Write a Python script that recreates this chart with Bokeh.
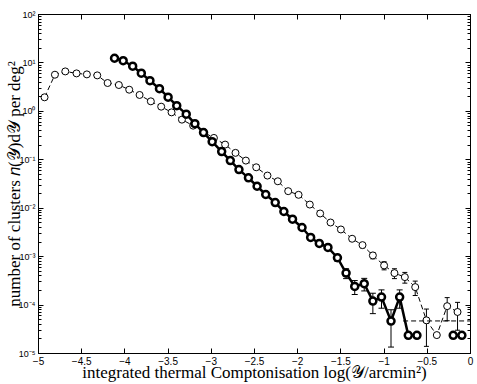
from bokeh.plotting import figure
from bokeh.models import (LinearAxis, LogAxis, FixedTicker, Whisker, TeeHead,
                          ColumnDataSource)
from bokeh.embed import file_html
from bokeh.resources import INLINE

nan = float("nan")

# open-circle series (dashed thin line)
open_x = [-4.93, -4.81, -4.69, -4.56, -4.44, -4.32, -4.20, -4.07, -3.95, -3.83,
          -3.70, -3.58, -3.46, -3.34, -3.21, -3.09, -2.97, -2.84, -2.72, -2.60,
          -2.48, -2.35, -2.23, -2.11, -1.99, -1.86, -1.74, -1.62, -1.50, -1.37,
          -1.25, -1.13, -1.00, -0.88, -0.76, -0.64, -0.51, -0.39, -0.27, -0.15]
open_y = [1.95, 5.71, 6.68, 6.08, 5.80, 5.53, 3.85, 3.50, 2.80, 2.18,
          1.61, 1.25, 0.953, 0.674, 0.507, 0.372, 0.283, 0.206, 0.139, 0.0963,
          0.070, 0.0472, 0.0360, 0.0225, 0.0189, 0.0119, 0.00778, 0.00507, 0.00364, 0.00234,
          0.00173, 0.00106, 0.000659, 0.000457, 0.000378, 0.000235, 4.84e-5, 2.40e-5, 9.5e-5, 7.2e-5]
open_err = [0.01, 0.01, 0.01, 0.01, 0.01, 0.01, 0.01, 0.01, 0.01, 0.01,
            0.01, 0.01, 0.01, 0.01, 0.01, 0.01, 0.01, 0.01, 0.01, 0.01,
            0.02, 0.022, 0.026, 0.033, 0.036, 0.045, 0.056, 0.07, 0.082, 0.10,
            0.12, 0.15, 0.19, 0.23, 0.25, 0.33, 0.71, None, 0.50, 0.58]

# bold series (thick solid line)
bold_x = [-4.12, -4.02, -3.91, -3.81, -3.71, -3.60, -3.50, -3.40, -3.29, -3.19,
          -3.09, -2.99, -2.88, -2.78, -2.68, -2.57, -2.47, -2.37, -2.26, -2.16,
          -2.06, -1.95, -1.85, -1.75, -1.65, -1.54, -1.44, -1.34, -1.23, -1.13,
          -1.03, -0.92, -0.82, -0.72, -0.62, -0.51, -0.41, -0.31, -0.20, -0.10]
bold_y = [12.5, 11.1, 8.55, 6.14, 4.30, 2.94, 1.96, 1.31, 0.875, 0.557,
          0.364, 0.237, 0.148, 0.0963, 0.0628, 0.0424, 0.0284, 0.0192, 0.0131, 0.00855,
          0.00593, 0.00400, 0.00249, 0.00187, 0.00155, 0.000949, 0.000457, 0.000243, 0.000276, 0.000121,
          0.000146, 4.68e-5, 0.000146, 2.37e-5, 2.37e-5, nan, nan, nan, 2.37e-5, 2.37e-5]
bold_err = [0.01, 0.01, 0.01, 0.01, 0.01, 0.01, 0.01, 0.01, 0.01, 0.01,
            0.01, 0.01, 0.01, 0.01, 0.02, 0.024, 0.029, 0.035, 0.043, 0.053,
            0.063, 0.077, 0.10, 0.11, 0.124, 0.16, 0.23, 0.32, 0.29, 0.45,
            0.41, 0.71, 0.41, None, None, None, None, None, None, None]

ref_x = [-0.78, 0.0]
ref_y = [4.7e-5, 4.7e-5]

x_ticks = [-5, -4.5, -4, -3.5, -3, -2.5, -2, -1.5, -1, -0.5, 0]
x_tick_labels = ["\u22125", "\u22124.5", "\u22124", "\u22123.5", "\u22123", "\u22122.5",
                 "\u22122", "\u22121.5", "\u22121", "\u22120.5", "0"]
y_ticks = [1e-5, 1e-4, 1e-3, 1e-2, 1e-1, 1e0, 1e1, 1e2]
y_tick_labels = ["10\u207b\u2075", "10\u207b\u2074", "10\u207b\u00b3", "10\u207b\u00b2",
                 "10\u207b\u00b9", "10\u2070", "10\u00b9", "10\u00b2"]
y_minor = [m * 10.0 ** e for e in range(-5, 2) for m in range(2, 10)]

SERIF = "Liberation Serif"
SANS = "Liberation Sans"

p = figure(width=477, height=384, x_range=(-5, 0), y_range=(1e-5, 1e2),
           y_axis_type="log", output_backend="svg", toolbar_location=None,
           min_border_left=38, min_border_right=7, min_border_top=14, min_border_bottom=31)
p.grid.visible = False
p.outline_line_color = "black"
p.background_fill_color = "white"
p.border_fill_color = "white"

for ax in [p.xaxis[0], p.yaxis[0]]:
    ax.major_tick_in = 5
    ax.major_tick_out = 0
    ax.minor_tick_in = 3
    ax.minor_tick_out = 0
    ax.axis_line_color = "black"
    ax.major_label_text_font = SANS
    ax.major_label_text_color = "black"
    ax.axis_label_text_font = SERIF
    ax.axis_label_text_font_size = "17px"
    ax.axis_label_text_font_style = "normal"
    ax.axis_label_text_color = "black"

p.xaxis.ticker = FixedTicker(ticks=x_ticks)
p.xaxis.major_label_overrides = {t: l for t, l in zip(x_ticks, x_tick_labels)}
p.xaxis.major_label_text_font_size = "10px"
p.xaxis.major_label_standoff = 3
p.xaxis.axis_label = "integrated thermal Comptonisation log(\U0001D4B4/arcmin\u00b2)"
p.xaxis.axis_label_standoff = -5

p.yaxis.ticker = FixedTicker(ticks=y_ticks, minor_ticks=y_minor)
p.yaxis.major_label_overrides = {t: l for t, l in zip(y_ticks, y_tick_labels)}
p.yaxis.major_label_text_font_size = "9px"
p.yaxis.major_label_standoff = 3
p.yaxis.axis_label = "number of clusters \U0001D45B(\U0001D4B4)d\U0001D4B4 per deg\u00b2"
p.yaxis.axis_label_standoff = -8

top = LinearAxis(ticker=FixedTicker(ticks=x_ticks), major_label_text_font_size="1px",
                 major_label_text_color=None, major_tick_in=5, major_tick_out=0,
                 major_label_standoff=0, axis_line_color="black")
p.add_layout(top, "above")
right = LogAxis(ticker=FixedTicker(ticks=y_ticks, minor_ticks=y_minor),
                major_label_text_font_size="1px", major_label_text_color=None,
                major_tick_in=5, major_tick_out=0, minor_tick_in=3, minor_tick_out=0,
                major_label_standoff=0, axis_line_color="black")
p.add_layout(right, "right")

# open series
p.line(open_x, open_y, line_color="black", line_width=1, line_dash="5 3")
p.scatter(open_x, open_y, marker="circle", size=7, line_color="black",
          line_width=1, fill_color="white")
ox, olo, ohi = [], [], []
for x, y, f in zip(open_x, open_y, open_err):
    if f is not None:
        ox.append(x); olo.append(y * (1 - f)); ohi.append(y * (1 + f))
osrc = ColumnDataSource(dict(base=ox, lower=olo, upper=ohi))
p.add_layout(Whisker(source=osrc, base="base", lower="lower", upper="upper",
                     dimension="height", line_color="black", line_width=1,
                     upper_head=TeeHead(size=5, line_color="black", line_width=1),
                     lower_head=TeeHead(size=5, line_color="black", line_width=1)))

# reference dashed level
p.line(ref_x, ref_y, line_color="black", line_width=1, line_dash="5 3")

# bold series
p.line(bold_x, bold_y, line_color="black", line_width=2.5)
p.scatter(bold_x, bold_y, marker="circle", size=7, line_color="black",
          line_width=2.5, fill_color="white")
bx, blo, bhi = [], [], []
for x, y, f in zip(bold_x, bold_y, bold_err):
    if f is not None and y == y:
        bx.append(x); blo.append(y * (1 - f)); bhi.append(y * (1 + f))
bsrc = ColumnDataSource(dict(base=bx, lower=blo, upper=bhi))
p.add_layout(Whisker(source=bsrc, base="base", lower="lower", upper="upper",
                     dimension="height", line_color="black", line_width=1,
                     upper_head=TeeHead(size=6, line_color="black", line_width=1),
                     lower_head=TeeHead(size=6, line_color="black", line_width=1)))

open("out.html", "w").write(file_html(p, INLINE))
